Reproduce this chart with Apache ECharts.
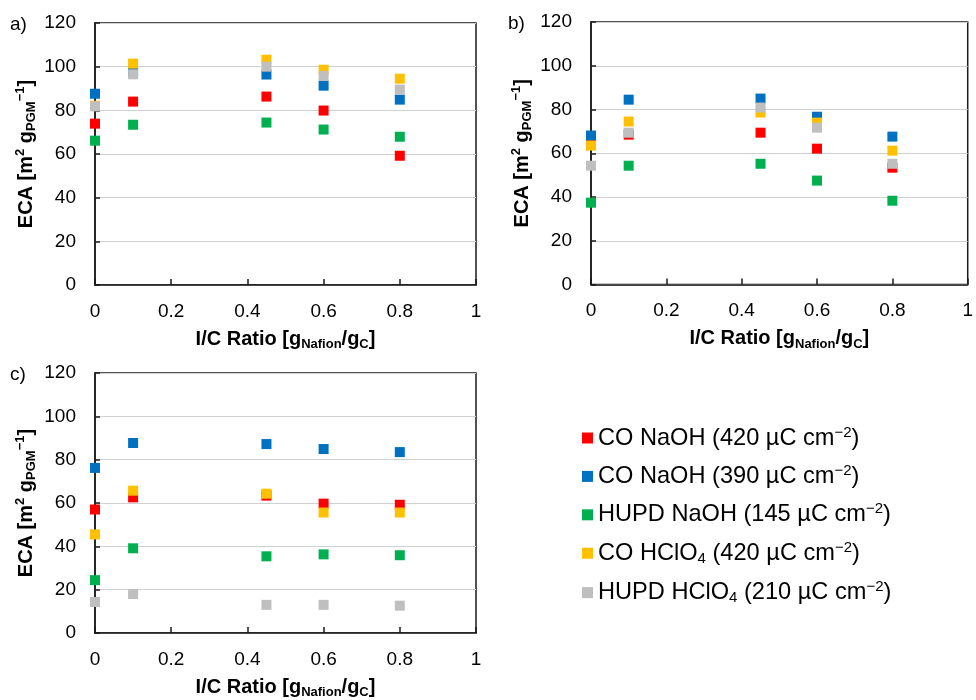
<!DOCTYPE html>
<html>
<head>
<meta charset="utf-8">
<script src="https://cdn.jsdelivr.net/npm/echarts@6/dist/echarts.min.js"></script>
<style>
  html, body { margin: 0; padding: 0; background: #ffffff; }
  #chart { width: 976px; height: 700px; }
</style>
</head>
<body>
<div id="chart"></div>
<script>
// I/C ratios (g Nafion / g C) at which each electrode was measured
const icRatios = [0, 0.1, 0.45, 0.6, 0.8];

// Series names (one per ECA determination method)
const methodNames = [
  'CO NaOH (420 µC cm−2)',
  'CO NaOH (390 µC cm−2)',
  'HUPD NaOH (145 µC cm−2)',
  'CO HClO4 (420 µC cm−2)',
  'HUPD HClO4 (210 µC cm−2)'
];

// Panel a) ECA values, m2 per g PGM
const aCoNaOH420   = [73.9, 84.0, 86.3, 79.9, 59.2];
const aCoNaOH390   = [87.6, 97.5, 96.4, 91.3, 84.9];
const aHupdNaOH    = [66.1, 73.4, 74.4, 71.2, 67.9];
const aCoHClO4     = [82.1, 101.4, 103.2, 98.6, 94.5];
const aHupdHClO4   = [81.8, 96.5, 100.0, 95.8, 89.5];

// Panel b) ECA values
const bCoNaOH420   = [64.0, 68.5, 69.4, 62.1, 53.4];
const bCoNaOH390   = [68.1, 84.5, 85.0, 76.7, 67.6];
const bHupdNaOH    = [37.4, 54.3, 55.2, 47.5, 38.3];
const bCoHClO4     = [63.5, 74.5, 78.6, 74.0, 61.2];
const bHupdHClO4   = [54.3, 69.4, 80.9, 71.7, 55.2];

// Panel c) ECA values
const cCoNaOH420   = [57.0, 62.6, 63.4, 59.7, 59.2];
const cCoNaOH390   = [76.2, 87.7, 87.2, 84.9, 83.5];
const cHupdNaOH    = [24.4, 39.1, 35.4, 36.3, 35.9];
const cCoHClO4     = [45.5, 65.7, 64.3, 55.6, 55.6];
const cHupdHClO4   = [14.3, 18.0, 13.0, 13.0, 12.6];

// Axis ticks
const xTicks = { min: 0, max: 1, interval: 0.2 };
const yTicks = { min: 0, max: 120, interval: 20 };

const panelValues = [
  [aCoNaOH420, aCoNaOH390, aHupdNaOH, aCoHClO4, aHupdHClO4],
  [bCoNaOH420, bCoNaOH390, bHupdNaOH, bCoHClO4, bHupdHClO4],
  [cCoNaOH420, cCoNaOH390, cHupdNaOH, cCoHClO4, cHupdHClO4]
];
const panelLetters = ['a)', 'b)', 'c)'];

const colors = ['#FF0000', '#0070C0', '#00B050', '#FFC000', '#BFBFBF'];
const FONT = '"Liberation Sans", Arial, sans-serif';
const INK = '#000000';
const FRAME = '#1a1a1a';

const grids = [
  { left: 95,  top: 23,  width: 381, height: 262 },
  { left: 591, top: 22,  width: 384, height: 262.5 },
  { left: 95,  top: 373, width: 381, height: 262.3 }
];

const titleBold = { fontFamily: FONT, fontWeight: 'bold', color: INK };
const axisNameRich = {
  t: Object.assign({ fontSize: 20, lineHeight: 24 }, titleBold),
  p: Object.assign({ fontSize: 13, lineHeight: 16, verticalAlign: 'top' }, titleBold),
  s: Object.assign({ fontSize: 13, lineHeight: 12, verticalAlign: 'bottom' }, titleBold)
};

const xAxes = grids.map((g, i) => ({
  type: 'value',
  gridIndex: i,
  min: xTicks.min, max: xTicks.max, interval: xTicks.interval,
  name: '{t|I/C Ratio [g}{s|Nafion}{t|/g}{s|C}{t|]}',
  nameLocation: 'middle',
  nameGap: 42,
  nameTextStyle: { rich: axisNameRich },
  axisLine: { show: true, onZero: false, lineStyle: { color: FRAME, width: 1.5 } },
  axisTick: { show: true, inside: true, length: 6, lineStyle: { color: FRAME, width: 1.5 } },
  axisLabel: { fontFamily: FONT, fontSize: 19, color: INK, margin: 17 },
  splitLine: { show: false }
}));

const yAxes = grids.map((g, i) => ({
  type: 'value',
  gridIndex: i,
  min: yTicks.min, max: yTicks.max, interval: yTicks.interval,
  name: '{t|ECA [m}{p|2}{t| g}{s|PGM}{p|−1}{t|]}',
  nameLocation: 'middle',
  nameRotate: 90,
  nameGap: 57,
  nameTextStyle: { rich: axisNameRich },
  axisLine: { show: true, lineStyle: { color: FRAME, width: 1.5 } },
  axisTick: { show: true, inside: true, length: 5, lineStyle: { color: FRAME, width: 1.5 } },
  axisLabel: { fontFamily: FONT, fontSize: 19, color: INK, margin: 19 },
  splitLine: { show: true, lineStyle: { color: '#d0d0d0', width: 1 } }
}));

const series = [];
panelValues.forEach((values, p) => {
  values.forEach((vals, k) => {
    series.push({
      type: 'scatter',
      name: methodNames[k],
      xAxisIndex: p,
      yAxisIndex: p,
      symbol: 'rect',
      symbolSize: 10,
      itemStyle: { color: colors[k], opacity: 1 },
      emphasis: { disabled: true },
      data: icRatios.map((x, j) => [x, vals[j]])
    });
  });
});

// Chemical subscripts and unit superscripts as rich text in the legend
function legendRich(name) {
  const body = name
    .replace('HClO4', 'HClO}{s|4}{t|')
    .replace('cm−2)', 'cm}{p|−2}{t|)');
  return '{t|' + body + '}';
}

const option = {
  backgroundColor: '#ffffff',
  animation: false,
  color: colors,
  title: [
    { text: panelLetters[0], left: 10,  top: 15 },
    { text: panelLetters[1], left: 508, top: 14 },
    { text: panelLetters[2], left: 10,  top: 365 }
  ].map(t => Object.assign(t, {
    padding: 0,
    textStyle: { fontFamily: FONT, fontSize: 19, fontWeight: 'normal', color: INK }
  })),
  grid: grids.map(g => Object.assign({
    show: true,
    borderColor: FRAME,
    borderWidth: 1.5,
    backgroundColor: 'transparent',
    containLabel: false
  }, g)),
  xAxis: xAxes,
  yAxis: yAxes,
  legend: {
    data: methodNames,
    orient: 'vertical',
    left: 582,
    top: 425,
    padding: 0,
    itemWidth: 11,
    itemHeight: 11,
    itemGap: 13.4,
    icon: 'rect',
    selectedMode: false,
    formatter: legendRich,
    textStyle: {
      fontFamily: FONT,
      color: INK,
      rich: {
        t: { fontFamily: FONT, fontSize: 23.6, lineHeight: 26, color: INK },
        p: { fontFamily: FONT, fontSize: 15, lineHeight: 20, color: INK, verticalAlign: 'top' },
        s: { fontFamily: FONT, fontSize: 15, lineHeight: 14, color: INK, verticalAlign: 'bottom' }
      }
    }
  },
  series: series
};

const chart = echarts.init(document.getElementById('chart'), null, { renderer: 'canvas' });
chart.setOption(option);
</script>
</body>
</html>
